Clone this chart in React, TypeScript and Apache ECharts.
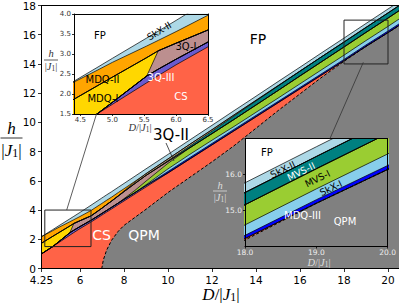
import React, { useEffect, useRef } from 'react';
import * as echarts from 'echarts';

// D/|J1| sample points shared by every phase band
const D = [4.25, 4.4, 4.76, 5.0, 5.54, 5.72, 6.0, 6.5, 6.99, 7.06, 7.21, 7.44, 7.74, 8.0, 8.5, 9.0, 10, 11, 12, 13, 14, 15, 16, 17, 18, 19, 20, 20.5];

// vertical thickness (in h/|J1|) of each phase band at every D, bottom band first
const qpm = [0, 0, 0, 0, 0, 0, 0, 0, 0, 0.58, 1.26, 1.94, 2.55, 2.95, 3.5, 4.05, 5.2, 6.25, 7.3, 8.4, 9.6, 10.8, 11.95, 13.1, 14.18, 15.2, 16.14, 16.63];
const cs = [1.0, 1.15, 1.5, 1.74, 2.28, 2.46, 2.73, 3.18, 3.65, 3.14, 2.6, 2.14, 1.82, 1.67, 1.6, 1.53, 1.34, 1.25, 1.16, 1.02, 0.78, 0.54, 0.35, 0.16, 0.04, 0, 0, 0];
const q3III = [0, 0, 0, 0.05, 0.17, 0.16, 0.14, 0.12, 0.11, 0.11, 0.11, 0.11, 0.11, 0.11, 0.1, 0.1, 0, 0, 0, 0, 0, 0, 0, 0, 0, 0, 0, 0];
const mdq3 = [0, 0, 0, 0, 0, 0, 0, 0, 0, 0, 0, 0, 0, 0, 0, 0, 0.1, 0.1, 0.1, 0.1, 0.1, 0.09, 0.09, 0.09, 0.09, 0.1, 0.11, 0.11];
const skx1 = [0, 0, 0, 0, 0, 0, 0, 0, 0, 0, 0, 0, 0, 0, 0, 0.05, 0.18, 0.22, 0.22, 0.2, 0.21, 0.23, 0.25, 0.27, 0.29, 0.3, 0.32, 0.33];
const mvs1 = [0, 0, 0, 0, 0, 0, 0, 0, 0, 0, 0, 0, 0, 0.05, 0.15, 0.25, 0.38, 0.45, 0.45, 0.48, 0.5, 0.52, 0.54, 0.55, 0.56, 0.56, 0.57, 0.57];
const q3I = [0, 0, 0, 0, 0, 0.46, 0.4, 0.3, 0.36, 0.37, 0.4, 0.43, 0.48, 0.48, 0.47, 0.39, 0.13, 0, 0, 0, 0, 0, 0, 0, 0, 0, 0, 0];
const mdq1 = [0.73, 0.72, 0.7, 0.63, 0.46, 0, 0, 0, 0, 0, 0, 0, 0, 0, 0, 0, 0, 0, 0, 0, 0, 0, 0, 0, 0, 0, 0, 0];
const mvs2 = [0, 0, 0, 0, 0, 0, 0, 0, 0, 0, 0, 0, 0, 0, 0, 0, 0.05, 0.12, 0.17, 0.24, 0.28, 0.31, 0.33, 0.34, 0.34, 0.34, 0.35, 0.35];
const q3II = [0, 0, 0, 0, 0, 0, 0, 0, 0, 0, 0, 0, 0.02, 0.05, 0.1, 0.12, 0.12, 0.12, 0.1, 0.07, 0.04, 0.02, 0, 0, 0, 0, 0, 0];
const mdq2 = [0.45, 0.43, 0.39, 0.37, 0.29, 0.26, 0.29, 0.37, 0.33, 0.32, 0.3, 0.27, 0.22, 0.15, 0.05, 0, 0, 0, 0, 0, 0, 0, 0, 0, 0, 0, 0, 0];
const skx2 = [0, 0.02, 0.07, 0.1, 0.2, 0.23, 0.28, 0.36, 0.37, 0.37, 0.37, 0.37, 0.36, 0.36, 0.35, 0.33, 0.31, 0.3, 0.3, 0.29, 0.28, 0.28, 0.27, 0.27, 0.27, 0.27, 0.27, 0.27];

const phases = [
  { name: 'QPM', color: '#808080', w: qpm },
  { name: 'CS', color: '#ff6347', w: cs },
  { name: '3Q-III', color: '#6a5acd', w: q3III },
  { name: 'MDQ-III', color: '#0000ff', w: mdq3 },
  { name: 'SkX-I', color: '#87ceeb', w: skx1 },
  { name: 'MVS-I', color: '#9acd32', w: mvs1 },
  { name: '3Q-I', color: '#bc8f8f', w: q3I },
  { name: 'MDQ-I', color: '#ffd700', w: mdq1 },
  { name: 'MVS-II', color: '#008080', w: mvs2 },
  { name: '3Q-II', color: '#d2b48c', w: q3II },
  { name: 'MDQ-II', color: '#ffa500', w: mdq2 },
  { name: 'SkX-II', color: '#add8e6', w: skx2 },
];

// axes ranges and ticks
const mainX = [4.25, 20.5];
const mainY = [0, 18];
const mainXTicks = [4.25, 6, 8, 10, 12, 14, 16, 18, 20];
const in1X = [4.4, 6.5];
const in1Y = [1.5, 4.0];
const in1XTicks = [4.5, 5.0, 5.5, 6.0, 6.5];
const in2X = [18, 20];
const in2Y = [14, 17];
const in2XTicks = [18, 19, 20];
const in2YTicks = [15, 16];

const sans = 'DejaVu Sans';
const serif = 'Liberation Serif';

// cumulative tops
const tops: number[][] = [];
{
  const acc = D.map(() => 0);
  phases.forEach((p) => {
    p.w.forEach((v, i) => (acc[i] += v));
    tops.push(acc.slice());
  });
}

function bands(xi: number, yi: number, z: number) {
  const out: any[] = [];
  for (let k = phases.length - 1; k >= 0; k--) {
    const p = phases[k];
    const isQ = p.name === 'QPM';
    out.push({
      type: 'line',
      name: p.name,
      xAxisIndex: xi,
      yAxisIndex: yi,
      data: D.map((d, i) => [d, tops[k][i]]),
      symbol: 'none',
      showSymbol: false,
      silent: true,
      clip: true,
      z,
      lineStyle: { color: '#000', width: isQ ? 1 : 0.7, type: isQ ? [3, 2] : 'solid' },
      areaStyle: { color: p.color, opacity: 1, origin: 'start' },
    });
  }
  return out;
}

function boxSeries(xr: number[], yr: number[]) {
  return {
    type: 'line',
    xAxisIndex: 0,
    yAxisIndex: 0,
    data: [[xr[0], yr[0]], [xr[1], yr[0]], [xr[1], yr[1]], [xr[0], yr[1]], [xr[0], yr[0]]],
    symbol: 'none',
    silent: true,
    z: 3,
    lineStyle: { color: '#222', width: 1 },
  };
}

function spineX(grid: number, r: number[], pos: string, z: number, ticks?: number[], lab?: any) {
  return {
    type: 'value', gridIndex: grid, min: r[0], max: r[1], position: pos, z,
    axisLine: { show: true, onZero: false, lineStyle: { color: '#000', width: 1 } },
    axisTick: ticks ? { show: true, length: lab.tl, lineStyle: { color: '#000', width: 0.8 }, customValues: ticks } : { show: false },
    axisLabel: ticks ? { show: true, customValues: ticks, fontSize: lab.fs, color: lab.color, margin: lab.margin, fontFamily: sans, formatter: lab.fmt } : { show: false },
    splitLine: { show: false },
  };
}

function txt(text: string, x: number, y: number, size: number, fill: string, rot = 0): any {
  return {
    type: 'text', x, y, rotation: (rot * Math.PI) / 180, z: 100, silent: true,
    style: { text, x: 0, y: 0, fill, fontSize: size, fontFamily: sans, align: 'center', verticalAlign: 'middle' },
  };
}

function mathText(text: string, x: number, y: number, size: number, fill: string): any {
  return {
    type: 'text', x, y, z: 100, silent: true,
    style: {
      text, x: 0, y: 0, fill, fontSize: size, fontFamily: serif, align: 'center', verticalAlign: 'middle',
      rich: {
        i: { fontStyle: 'italic', fontSize: size, fontFamily: serif, fill },
        s: { fontSize: size * 0.7, fontFamily: serif, fill, verticalAlign: 'bottom' },
      },
    },
  };
}

function fraction(cx: number, hy: number, by: number, jy: number, half: number, size: number, fill: string): any[] {
  return [
    mathText('{i|h}', cx, hy, size, fill),
    { type: 'line', z: 100, silent: true, shape: { x1: cx - half, y1: by, x2: cx + half, y2: by }, style: { stroke: fill, lineWidth: 0.8 } },
    mathText('|{i|J}{s|1}|', cx, jy, size, fill),
  ];
}

const fmt1 = (v: number) => v.toFixed(1);

const option: any = {
  animation: false,
  backgroundColor: '#fff',
  grid: [
    { left: 41.5, top: 4, width: 357.5, height: 264.5, containLabel: false },
    { left: 74, top: 14, width: 134, height: 100, show: true, backgroundColor: '#fff', borderWidth: 0, z: 10 },
    { left: 245, top: 138.5, width: 143.5, height: 108, show: true, backgroundColor: '#fff', borderWidth: 0, z: 10 },
  ],
  xAxis: [
    spineX(0, mainX, 'bottom', 5, mainXTicks, { tl: 3.5, fs: 10.5, color: '#000', margin: 6, fmt: (v: number) => (v === 4.25 ? '4.25' : String(v)) }),
    spineX(0, mainX, 'top', 5),
    spineX(1, in1X, 'bottom', 14, in1XTicks, { tl: 2, fs: 7, color: '#333', margin: 2, fmt: fmt1 }),
    spineX(1, in1X, 'top', 14),
    spineX(2, in2X, 'bottom', 14, in2XTicks, { tl: 2, fs: 7.5, color: '#eeeeee', margin: 2, fmt: fmt1 }),
    spineX(2, in2X, 'top', 14),
  ],
  yAxis: [
    {
      type: 'value', gridIndex: 0, min: mainY[0], max: mainY[1], interval: 2, position: 'left', z: 5,
      axisLine: { show: true, onZero: false, lineStyle: { color: '#000', width: 1 } },
      axisTick: { show: true, length: 3.5, lineStyle: { color: '#000', width: 0.8 } },
      axisLabel: { fontSize: 10.5, color: '#000', margin: 5.5, fontFamily: sans },
      splitLine: { show: false },
    },
    {
      type: 'value', gridIndex: 1, min: in1Y[0], max: in1Y[1], interval: 0.5, position: 'left', z: 14,
      axisLine: { show: true, onZero: false, lineStyle: { color: '#000', width: 1 } },
      axisTick: { show: true, length: 2, lineStyle: { color: '#000', width: 0.8 } },
      axisLabel: { fontSize: 7, color: '#333', margin: 3, fontFamily: sans, formatter: fmt1 },
      splitLine: { show: false },
    },
    spineX(1, in1Y, 'right', 14),
    {
      type: 'value', gridIndex: 2, min: in2Y[0], max: in2Y[1], position: 'left', z: 14,
      axisLine: { show: true, onZero: false, lineStyle: { color: '#000', width: 1 } },
      axisTick: { show: true, length: 2, lineStyle: { color: '#000', width: 0.8 }, customValues: in2YTicks },
      axisLabel: { customValues: in2YTicks, fontSize: 7.5, color: '#eeeeee', margin: 3, fontFamily: sans, formatter: fmt1 },
      splitLine: { show: false },
    },
    spineX(2, in2Y, 'right', 14),
  ],
  series: [
    ...bands(0, 0, 2),
    boxSeries(in1X, in1Y),
    boxSeries(in2X, in2Y),
    ...bands(2, 1, 12),
    ...bands(4, 3, 12),
  ],
  graphic: [
    // main labels
    txt('FP', 258, 39, 14, '#000'),
    txt('CS', 101.5, 235, 14, '#fff'),
    txt('QPM', 144, 235, 14, '#fff'),
    txt('3Q-II', 171, 135, 15, '#000'),
    { type: 'line', z: 100, silent: true, shape: { x1: 166, y1: 143, x2: 174, y2: 161 }, style: { stroke: '#222', lineWidth: 0.8 } },
    // connectors
    { type: 'line', z: 100, silent: true, shape: { x1: 66.7, y1: 210, x2: 96.5, y2: 114 }, style: { stroke: '#333', lineWidth: 0.8 } },
    { type: 'line', z: 100, silent: true, shape: { x1: 363.3, y1: 62.3, x2: 330, y2: 138.5 }, style: { stroke: '#333', lineWidth: 0.8 } },
    // main axis titles
    mathText('{i|D}/|{i|J}{s|1}|', 221, 294, 17, '#000'),
    ...fraction(11.5, 128, 138, 150, 11, 17, '#000'),
    // inset 1
    txt('FP', 100, 35.5, 10, '#000'),
    txt('SkX-II', 159, 31, 9.5, '#000', 31),
    txt('3Q-I', 186, 46, 10, '#000'),
    txt('MDQ-II', 102.5, 79, 10, '#000'),
    txt('3Q-III', 161, 77, 10, '#fff'),
    txt('MDQ-I', 103, 98, 10, '#000'),
    txt('CS', 181, 96.5, 10, '#fff'),
    mathText('{i|D}/|{i|J}{s|1}|', 140, 127.5, 10.5, '#333'),
    ...fraction(51, 53, 60, 66.5, 7, 10.5, '#333'),
    // inset 2
    txt('FP', 267, 152, 10, '#000'),
    txt('SkX-II', 282.7, 169.5, 9.5, '#000', 26),
    txt('MVS-II', 301, 171.5, 9.5, '#fff', 26),
    txt('MVS-I', 317.5, 178.5, 9.5, '#000', 26),
    txt('SkX-I', 330.8, 188, 9.5, '#000', 26),
    txt('MDQ-III', 302.5, 215, 10, '#fff'),
    txt('QPM', 345, 221.7, 10, '#fff'),
    mathText('{i|D}/|{i|J}{s|1}|', 319, 262, 10.5, '#dddddd'),
    ...fraction(220, 185, 191, 197.5, 7, 10.5, '#dddddd'),
  ],
};

export default function App() {
  const ref = useRef<HTMLDivElement>(null);
  useEffect(() => {
    const el = ref.current as HTMLDivElement;
    const chart = echarts.init(el, null, { renderer: 'svg', width: 399, height: 303 });
    chart.setOption(option);
    return () => chart.dispose();
  }, []);
  return <div ref={ref} style={{ position: 'fixed', left: 0, top: 0, width: 399, height: 303, background: '#fff' }} />;
}
